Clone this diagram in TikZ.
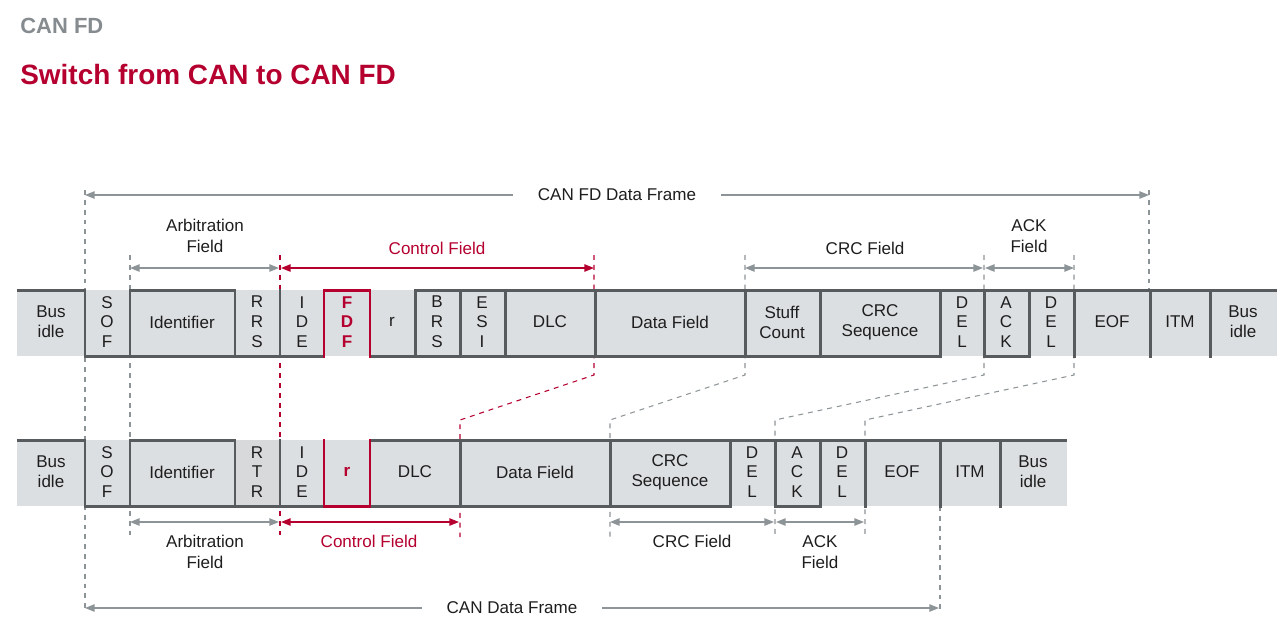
\documentclass[tikz,border=0pt]{standalone}
\usepackage{fontspec}
\setmainfont{Liberation Sans}
\usetikzlibrary{arrows.meta}
\definecolor{canred}{HTML}{B5002F}
\definecolor{sigline}{HTML}{575B5D}
\definecolor{cellfill}{HTML}{DCDFE1}
\definecolor{rtrfill}{HTML}{D8D9DA}
\definecolor{dimgray}{HTML}{8D9497}
\definecolor{headgray}{HTML}{858B8E}
\definecolor{ink}{HTML}{1E1E1E}
\tikzset{
  sig/.style={line width=1.7pt, draw=sigline, line cap=rect},
  sigred/.style={line width=1.7pt, draw=canred, line cap=rect},
  dimline/.style={line width=0.8pt, draw=dimgray, {Triangle[length=5.5pt,width=4.2pt]}-{Triangle[length=5.5pt,width=4.2pt]}},
  extline/.style={line width=0.6pt, draw=dimgray, dash pattern=on 2.8pt off 2.8pt},
  celltext/.style={font=\fontsize{9.7}{11.3}\selectfont, align=center, text=ink, inner sep=0pt},
  dimtext/.style={font=\fontsize{9.7}{12}\selectfont, align=center, text=ink},
}
\begin{document}
\begin{tikzpicture}[x=0.02cm,y=-0.02cm]
  \useasboundingbox (0,0) rectangle (1287,627);
  % heading
  \node[anchor=base west, inner sep=0pt, text=headgray, font=\fontsize{12.5}{15}\selectfont\bfseries] (kicker) at (20,33) {CAN FD};
  \node[anchor=base west, inner sep=0pt, text=canred, font=\fontsize{15.9}{19}\selectfont\bfseries] (title) at (20,84) {Switch from CAN to CAN FD};

  % extension lines (behind the rows)
  \draw[extline] (85,190) -- (85,612);
  \draw[extline] (1149,190) -- (1149,290);
  \draw[extline] (130,255) -- (130,537);
  \draw[extline,draw=canred] (280,255) -- (280,537);
  \draw[extline,draw=canred] (594,255) -- (594,375) -- (460,420) -- (460,537);
  \draw[extline] (745,255) -- (745,375) -- (610,420) -- (610,537);
  \draw[extline] (984,255) -- (984,375) -- (775,420) -- (775,537);
  \draw[extline] (1074,255) -- (1074,375) -- (865,420) -- (865,537);
  \draw[extline] (940,506) -- (940,612);

  % CAN FD frame
  \fill[cellfill] (17,290) rectangle (1277,356);
  \draw[sig] (18.5,290) -- (85,290);
  \draw[sig] (130,290) -- (235,290);
  \draw[sig] (415,290) -- (1275.5,290);
  \draw[sig] (85,356) -- (324,356);
  \draw[sig] (370,356) -- (940,356);
  \draw[sig] (984,356) -- (1029,356);
  \foreach \xs in {85,130,235,280,415,460,505,595,745,820,940,984,1029,1074,1150,1210}
    \draw[sig] (\xs,290) -- (\xs,356);
  \draw[sigred] (324,356) -- (324,290) -- (370,290) -- (370,356);
  % CAN FD cells
  \node[celltext] (fd-idle) at (51,322) {Bus\\idle};
  \node[celltext] (fd-sof) at (107,322) {S\\O\\F};
  \node[celltext] (fd-id) at (182,322) {Identifier};
  \node[celltext] (fd-rrs) at (257,322) {R\\R\\S};
  \node[celltext] (fd-ide) at (302,322) {I\\D\\E};
  \node[celltext, text=canred, font=\fontsize{9.7}{11.3}\selectfont\bfseries] (fd-fdf) at (347,322) {F\\D\\F};
  \node[celltext] (fd-r) at (392,322) {r};
  \node[celltext] (fd-brs) at (437,322) {B\\R\\S};
  \node[celltext] (fd-esi) at (482,322) {E\\S\\I};
  \node[celltext] (fd-dlc) at (550,322) {DLC};
  \node[celltext] (fd-data) at (670,322) {Data Field};
  \node[celltext] (fd-stuff) at (782,322) {Stuff\\Count};
  \node[celltext] (fd-crc) at (880,322) {CRC\\Sequence};
  \node[celltext] (fd-del1) at (962,322) {D\\E\\L};
  \node[celltext] (fd-ack) at (1006,322) {A\\C\\K};
  \node[celltext] (fd-del2) at (1051,322) {D\\E\\L};
  \node[celltext] (fd-eof) at (1112,322) {EOF};
  \node[celltext] (fd-itm) at (1180,322) {ITM};
  \node[celltext] (fd-idle2) at (1243,322) {Bus\\idle};

  % CAN frame
  \fill[cellfill] (17,440) rectangle (1067,506);
  \fill[rtrfill] (235,440) rectangle (280,506);
  \draw[sig] (18.5,440) -- (85,440);
  \draw[sig] (130,440) -- (235,440);
  \draw[sig] (370,440) -- (1065.5,440);
  \draw[sig] (85,506) -- (324,506);
  \draw[sig] (370,506) -- (730,506);
  \draw[sig] (775,506) -- (820,506);
  \foreach \xs in {85,130,235,280,460,610,730,775,820,865,940,1000}
    \draw[sig] (\xs,440) -- (\xs,506);
  \draw[sigred] (324,440) -- (324,506) -- (370,506) -- (370,440);
  % CAN cells
  \node[celltext] (c-idle) at (51,472) {Bus\\idle};
  \node[celltext] (c-sof) at (107,472) {S\\O\\F};
  \node[celltext] (c-id) at (182,472) {Identifier};
  \node[celltext] (c-rtr) at (257,472) {R\\T\\R};
  \node[celltext] (c-ide) at (302,472) {I\\D\\E};
  \node[celltext, text=canred, font=\fontsize{9.7}{11.3}\selectfont\bfseries] (c-r) at (347,472) {r};
  \node[celltext] (c-dlc) at (415,472) {DLC};
  \node[celltext] (c-data) at (535,472) {Data Field};
  \node[celltext] (c-crc) at (670,472) {CRC\\Sequence};
  \node[celltext] (c-del1) at (752,472) {D\\E\\L};
  \node[celltext] (c-ack) at (797,472) {A\\C\\K};
  \node[celltext] (c-del2) at (842,472) {D\\E\\L};
  \node[celltext] (c-eof) at (902,472) {EOF};
  \node[celltext] (c-itm) at (970,472) {ITM};
  \node[celltext] (c-idle2) at (1033,472) {Bus\\idle};

  % field markers, CAN FD
  \coordinate (fdL) at (85,195);   \coordinate (fdR) at (1149,195);
  \coordinate (arbL) at (130,268); \coordinate (arbR) at (279,268);
  \coordinate (ctlL) at (281,268); \coordinate (ctlR) at (594,268);
  \coordinate (crcL) at (745,268); \coordinate (crcR) at (983,268);
  \coordinate (ackL) at (985,268); \coordinate (ackR) at (1074,268);
  \draw[dimline] (fdL) -- (fdR) node[midway, dimtext, fill=white, inner xsep=14pt] (fd-frame) {CAN FD Data Frame};
  \draw[dimline] (arbL) -- (arbR);
  \draw[dimline, draw=canred] (ctlL) -- (ctlR);
  \draw[dimline] (crcL) -- (crcR);
  \draw[dimline] (ackL) -- (ackR);
  \node[dimtext] (fd-arb) at (205,236) {Arbitration\\Field};
  \node[dimtext, text=canred] (fd-ctl) at (437,248) {Control Field};
  \node[dimtext] (fd-crcf) at (865,248) {CRC Field};
  \node[dimtext] (fd-ackf) at (1029,236) {ACK\\Field};

  % field markers, CAN
  \coordinate (carbL) at (130,522); \coordinate (carbR) at (279,522);
  \coordinate (cctlL) at (281,522); \coordinate (cctlR) at (459,522);
  \coordinate (ccrcL) at (610,522); \coordinate (ccrcR) at (774,522);
  \coordinate (cackL) at (776,522); \coordinate (cackR) at (864,522);
  \coordinate (cdL) at (85,608);    \coordinate (cdR) at (939,608);
  \draw[dimline] (carbL) -- (carbR);
  \draw[dimline, draw=canred] (cctlL) -- (cctlR);
  \draw[dimline] (ccrcL) -- (ccrcR);
  \draw[dimline] (cackL) -- (cackR);
  \draw[dimline] (cdL) -- (cdR) node[midway, dimtext, fill=white, inner xsep=14pt] (c-frame) {CAN Data Frame};
  \node[dimtext] (c-arb) at (205,552) {Arbitration\\Field};
  \node[dimtext, text=canred] (c-ctl) at (369,541) {Control Field};
  \node[dimtext] (c-crcf) at (692,541) {CRC Field};
  \node[dimtext] (c-ackf) at (820,552) {ACK\\Field};
\end{tikzpicture}
\end{document}
